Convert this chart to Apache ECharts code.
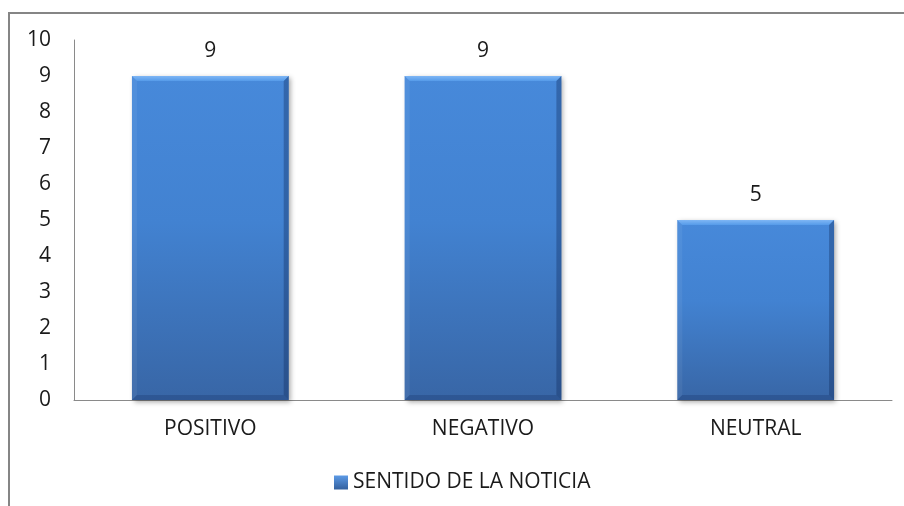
<!DOCTYPE html>
<html>
<head>
<meta charset="utf-8">
<script src="https://cdn.jsdelivr.net/npm/echarts@6/dist/echarts.min.js"></script>
<style>
  html, body { margin: 0; padding: 0; background: #fff; }
  #frame {
    position: absolute; left: 8px; top: 12px; right: -4px; bottom: -4px;
    border-top: 2px solid #858585; border-left: 2px solid #858585;
  }
  #chart { position: absolute; left: 0; top: 0; width: 904px; height: 506px; }
</style>
</head>
<body>
<div id="frame"></div>
<div id="chart"></div>
<script>
// Categories and counts
const categories = ['POSITIVO', 'NEGATIVO', 'NEUTRAL'];
const counts = [9, 9, 5];
const seriesName = 'SENTIDO DE LA NOTICIA';
const yTicks = [0, 1, 2, 3, 4, 5, 6, 7, 8, 9, 10];

const FONT = '"Open Sans", sans-serif';
const TEXT_COLOR = '#1a1a1a';
const FONT_SIZE = 21;
const BAR_RATIO = 0.575;   // bar width as a share of the category band
const BEVEL = 5;           // bevel edge thickness in px

const bodyFill = new echarts.graphic.LinearGradient(0, 0, 0, 1, [
  { offset: 0, color: '#4789da' },
  { offset: 0.45, color: '#4282d1' },
  { offset: 1, color: '#3866a6' }
]);
const legendFill = new echarts.graphic.LinearGradient(0, 0, 0, 1, [
  { offset: 0, color: '#5c9ae6' },
  { offset: 1, color: '#33609e' }
]);

// Beveled bar: body plus four edge facets, value label above
function renderBar(params, api) {
  const value = api.value(1);
  const top = api.coord([api.value(0), value]);
  const base = api.coord([api.value(0), 0]);
  const w = api.size([1, 0])[0] * BAR_RATIO;
  const x0 = top[0] - w / 2, x1 = top[0] + w / 2;
  const y0 = top[1], y1 = base[1];
  const b = Math.min(BEVEL, (y1 - y0) / 2);
  return {
    type: 'group',
    children: [
      {
        type: 'rect',
        shape: { x: x0, y: y0, width: w, height: y1 - y0 },
        style: {
          fill: bodyFill,
          shadowColor: 'rgba(0,0,0,0.35)', shadowBlur: 5,
          shadowOffsetX: 2, shadowOffsetY: 2
        }
      },
      { // top facet
        type: 'polygon',
        shape: { points: [[x0, y0], [x1, y0], [x1 - b, y0 + b], [x0 + b, y0 + b]] },
        style: {
          fill: new echarts.graphic.LinearGradient(0, 0, 0, 1, [
            { offset: 0, color: '#7fb6f5' },
            { offset: 1, color: '#559be9' }
          ])
        }
      },
      { // left facet
        type: 'polygon',
        shape: { points: [[x0, y0], [x0 + b, y0 + b], [x0 + b, y1 - b], [x0, y1]] },
        style: { fill: 'rgba(255,255,255,0.06)' }
      },
      { // right facet
        type: 'polygon',
        shape: { points: [[x1, y0], [x1, y1], [x1 - b, y1 - b], [x1 - b, y0 + b]] },
        style: { fill: 'rgba(15,40,90,0.35)' }
      },
      { // bottom facet
        type: 'polygon',
        shape: { points: [[x0, y1], [x1, y1], [x1 - b, y1 - b], [x0 + b, y1 - b]] },
        style: { fill: 'rgba(15,40,90,0.25)' }
      },
      {
        type: 'text',
        x: top[0], y: y0 - 14,
        style: {
          text: String(value),
          fontFamily: FONT, fontSize: FONT_SIZE, fill: TEXT_COLOR,
          align: 'center', verticalAlign: 'bottom'
        }
      }
    ]
  };
}

const chart = echarts.init(document.getElementById('chart'), null, { renderer: 'canvas' });
chart.setOption({
  backgroundColor: 'transparent',
  animation: false,
  textStyle: { fontFamily: FONT },
  grid: { left: 74, right: 12, top: 40, bottom: 106, containLabel: false },
  legend: {
    left: 334, top: 472, padding: 0,
    itemWidth: 14, itemHeight: 14, itemGap: 6,
    icon: 'rect',
    textStyle: { fontFamily: FONT, fontSize: FONT_SIZE, color: TEXT_COLOR },
    data: [{ name: seriesName }]
  },
  xAxis: {
    type: 'category',
    data: categories,
    axisLine: { lineStyle: { color: '#8a8a8a', width: 1 } },
    axisTick: { show: false },
    axisLabel: { fontFamily: FONT, fontSize: FONT_SIZE, color: TEXT_COLOR, margin: 19 }
  },
  yAxis: {
    type: 'value',
    min: yTicks[0], max: yTicks[yTicks.length - 1], interval: 1,
    axisLine: { show: true, lineStyle: { color: '#8a8a8a', width: 1 } },
    axisTick: { show: false },
    splitLine: { show: false },
    axisLabel: { fontFamily: FONT, fontSize: FONT_SIZE, color: TEXT_COLOR, margin: 23 }
  },
  series: [{
    name: seriesName,
    type: 'custom',
    renderItem: renderBar,
    encode: { x: 0, y: 1 },
    itemStyle: { color: legendFill },
    data: categories.map((c, i) => [i, counts[i]])
  }]
});
</script>
</body>
</html>
